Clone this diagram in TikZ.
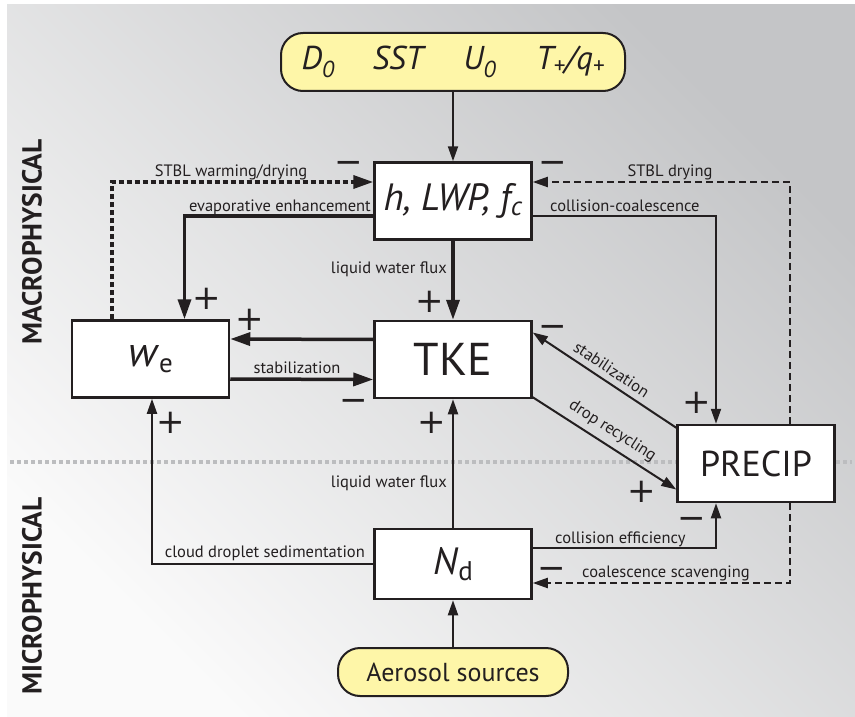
\documentclass[tikz,border=0pt]{standalone}
\usepackage{fontspec}
\setmainfont{PT Sans}
\newfontfamily\signfont{DejaVu Sans}
\usetikzlibrary{arrows.meta}
\definecolor{inkdark}{RGB}{35,31,32}
\definecolor{boxyellow}{RGB}{254,246,168}
\definecolor{bgdark}{RGB}{196,197,199}
\definecolor{bglight}{RGB}{250,250,250}
\definecolor{splitgray}{RGB}{188,189,191}
\newcommand{\fsz}[1]{\fontsize{#1}{#1}\selectfont}

\begin{document}
\begin{tikzpicture}[x=1pt, y=-1pt,
    box/.style={draw=inkdark, line width=2.5pt, fill=white, minimum width=157pt, minimum height=77pt, inner sep=0pt, text=inkdark},
    source/.style={draw=inkdark, line width=2pt, fill=boxyellow, rounded corners=22pt, inner sep=0pt, text=inkdark},
    lbl/.style={font=\fsz{16.5}, text=inkdark, inner sep=0pt},
    sign/.style={font=\signfont\fsz{34}, text=inkdark, inner sep=0pt, text height=25pt, text depth=0pt},
    arrow/.style={draw=inkdark, line width=2pt, -{Triangle[length=15pt, width=10pt]}},
    heavy/.style={draw=inkdark, line width=3.5pt, -{Triangle[length=20pt, width=13pt]}}
]

% Background
\shade[top color=bgdark, bottom color=bglight, shading angle=-45] (7,5) rectangle (855,717);
\useasboundingbox (0,0) rectangle (855,717);
\draw[splitgray, line width=4pt, dash pattern=on 4pt off 3pt] (10,462) -- (852,462);

% Side labels
\node[rotate=90, font=\bfseries\fsz{27.5}, text=inkdark] (macro) at (32,242) {MACROPHYSICAL};
\node[rotate=90, font=\bfseries\fsz{27.5}, text=inkdark] (micro) at (32,596) {MICROPHYSICAL};

% Sources
\node[source, minimum width=344pt, minimum height=58pt, font=\itshape\fsz{33}] (forcing) at (453,62)
    {D\textsubscript{0}\hspace{38pt}SST\hspace{40pt}U\textsubscript{0}\hspace{40pt}T\textsubscript{+}/q\textsubscript{+}};
\node[source, minimum width=230pt, minimum height=48pt, font=\fsz{26}] (aerosol) at (453,672) {Aerosol sources};

% Boxes
\node[box, font=\itshape\fsz{38}] (hlwp) at (453,201) {h, LWP, f\textsubscript{c}};
\node[box, font=\fsz{42}] (we) at (150.5,359) {\textit{w}\raisebox{-6pt}{\fsz{27}e}};
\node[box, font=\fsz{46}] (tke) at (453,359.5) {TKE};
\node[box, font=\fsz{36}] (precip) at (756,463.5) {PRECIP};
\node[box, minimum height=70pt, font=\fsz{38}] (nd) at (453,564) {\textit{N}\raisebox{-6pt}{\fsz{27}d}};

% Arrows
\draw[arrow] (forcing) -- (hlwp);
\draw[heavy, dash pattern=on 5pt off 3pt] ([xshift=41pt]we.north west) |- ([yshift=19pt]hlwp.west);
\draw[heavy] ([yshift=-15pt]hlwp.west) -| ([xshift=34pt]we.north);
\draw[heavy] (hlwp) -- (tke);
\draw[heavy] ([yshift=20pt]tke.west) -- ([yshift=20pt]we.east);
\draw[heavy] ([yshift=-20pt]we.east) -- ([yshift=-20pt]tke.west);
\draw[arrow] (nd.west) -| ([xshift=1.5pt]we.south);
\draw[arrow] (nd) -- (tke);
\draw[arrow] ([yshift=-15pt]hlwp.east) -| ([xshift=-40pt]precip.north);
\draw[arrow, dash pattern=on 7pt off 4pt] ([xshift=34pt]precip.north) |- ([yshift=19pt]hlwp.east);
\draw[arrow] ([yshift=-4pt]precip.north west) -- node[lbl, sloped, above=6pt] (stabdiag) {stabilization} ([yshift=27pt]tke.east);
\draw[arrow] ([yshift=2pt]tke.south east) -- node[lbl, sloped, above=6pt] (recycle) {drop recycling} ([yshift=-26pt]precip.west);
\draw[arrow] ([yshift=16pt]nd.east) -| ([xshift=-40pt]precip.south);
\draw[arrow, dash pattern=on 7pt off 4pt] ([xshift=34pt]precip.south) |- ([yshift=-19pt]nd.east);
\draw[arrow] (aerosol) -- (nd);

% Labels
\node[lbl, anchor=base] (warm) at (231,176) {STBL warming/drying};
\node[lbl, anchor=base east] (evap) at (371,211) {evaporative enhancement};
\node[lbl, anchor=base] (dry) at (670,176) {STBL drying};
\node[lbl, anchor=base west] (coll) at (550,211) {collision-coalescence};
\node[lbl, anchor=base east] (lwfup) at (447,273) {liquid water flux};
\node[lbl, anchor=base] (stab) at (297,373) {stabilization};
\node[lbl, anchor=base east] (sedi) at (365,557) {cloud droplet sedimentation};
\node[lbl, anchor=base east] (lwfdn) at (447,487) {liquid water flux};
\node[lbl, anchor=base west] (eff) at (555,543) {collision efficiency};
\node[lbl, anchor=base west] (scav) at (582,577) {coalescence scavenging};

% Signs
\node[sign] (s1) at (349,161) {−};
\node[sign] (s2) at (553,161) {−};
\node[sign] (s3) at (207,297) {+};
\node[sign] (s4) at (430,300) {+};
\node[sign] (s5) at (250,318) {+};
\node[sign] (s6) at (354,399) {−};
\node[sign] (s7) at (171,421) {+};
\node[sign] (s8) at (432,421) {+};
\node[sign] (s9) at (553,325) {−};
\node[sign] (s10) at (697,401) {+};
\node[sign] (s11) at (642,490) {+};
\node[sign] (s12) at (692,517) {−};
\node[sign] (s13) at (552,567) {−};

\end{tikzpicture}
\end{document}
